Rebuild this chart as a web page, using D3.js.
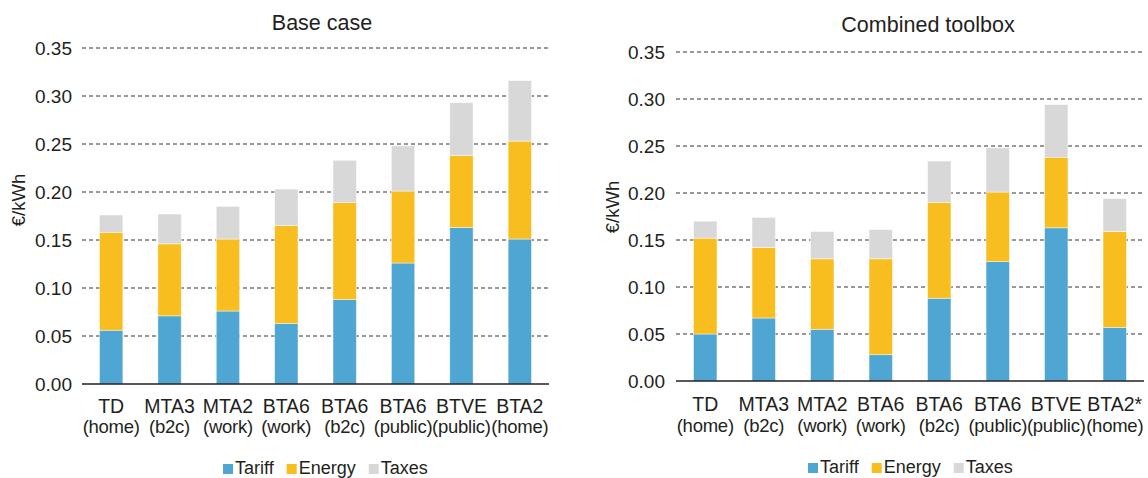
<!DOCTYPE html>
<html>
<head>
<meta charset="utf-8">
<script src="https://cdn.jsdelivr.net/npm/d3@7"></script>
<style>
  html, body { margin: 0; padding: 0; background: #fff; }
  svg { display: block; font-family: "Liberation Sans", Arial, Helvetica, sans-serif; }
</style>
</head>
<body>
<svg id="chart" width="1148" height="478"></svg>
<script>
// Charging cost breakdown (€/kWh) per tariff / use case
const seriesNames = ["Tariff", "Energy", "Taxes"];
const yTicks = [0, 0.05, 0.10, 0.15, 0.20, 0.25, 0.30, 0.35];

const baseCodes = ["TD", "MTA3", "MTA2", "BTA6", "BTA6", "BTA6", "BTVE", "BTA2"];
const baseSites = ["(home)", "(b2c)", "(work)", "(work)", "(b2c)", "(public)", "(public)", "(home)"];
const baseTariff = [0.056, 0.071, 0.076, 0.063, 0.088, 0.126, 0.163, 0.151];
const baseEnergy = [0.102, 0.075, 0.075, 0.102, 0.101, 0.075, 0.075, 0.102];
const baseTaxes  = [0.018, 0.031, 0.034, 0.038, 0.044, 0.047, 0.055, 0.063];

const toolCodes = ["TD", "MTA3", "MTA2", "BTA6", "BTA6", "BTA6", "BTVE", "BTA2*"];
const toolSites = ["(home)", "(b2c)", "(work)", "(work)", "(b2c)", "(public)", "(public)", "(home)"];
const toolTariff = [0.050, 0.067, 0.055, 0.028, 0.088, 0.127, 0.163, 0.057];
const toolEnergy = [0.102, 0.075, 0.075, 0.102, 0.102, 0.074, 0.075, 0.102];
const toolTaxes  = [0.018, 0.032, 0.029, 0.031, 0.044, 0.047, 0.056, 0.035];

const colors = { Tariff: "#4fa6d3", Energy: "#f8be1f", Taxes: "#d7d8d7" };

const svg = d3.select("#chart");

function drawPanel(opt) {
  const g = svg.append("g");
  const rows = opt.codes.map((c, i) => ({
    key: i, code: c, site: opt.sites[i],
    Tariff: opt.tariff[i], Energy: opt.energy[i], Taxes: opt.taxes[i]
  }));

  const x = d3.scaleBand().domain(rows.map(d => d.key))
    .range([opt.left, opt.right]).paddingInner(0.6).paddingOuter(0.3);
  const y = d3.scaleLinear().domain([0, 0.35]).range([opt.base, opt.top]);

  // dashed gridlines
  g.append("g").selectAll("line").data(yTicks.filter(t => t > 0)).join("line")
    .attr("x1", opt.left).attr("x2", opt.right)
    .attr("y1", d => y(d)).attr("y2", d => y(d))
    .attr("stroke", "#333").attr("stroke-width", 1)
    .attr("stroke-dasharray", "4,3");

  // y axis tick labels
  const yAxis = d3.axisLeft(y).tickValues(yTicks).tickFormat(d3.format(".2f"))
    .tickSize(0).tickPadding(opt.tickPad);
  const ya = g.append("g").attr("transform", `translate(${opt.left},0)`).call(yAxis);
  ya.select(".domain").remove();
  ya.selectAll("text").attr("font-size", 19).attr("fill", "#231f20")
    .attr("font-family", "Liberation Sans, Arial, sans-serif");

  // stacked bars
  const stack = d3.stack().keys(seriesNames)(rows);
  g.append("g").selectAll("g").data(stack).join("g")
    .attr("fill", s => colors[s.key])
    .selectAll("rect").data(s => s).join("rect")
    .attr("x", d => x(d.data.key))
    .attr("width", x.bandwidth())
    .attr("y", d => y(d[1]))
    .attr("height", d => y(d[0]) - y(d[1]))
    .attr("stroke", "rgba(255,255,255,0.55)").attr("stroke-width", 0.8);

  // baseline
  g.append("line").attr("x1", opt.left).attr("x2", opt.right)
    .attr("y1", y(0)).attr("y2", y(0))
    .attr("stroke", "#231f20").attr("stroke-width", 1.6);

  // category labels (two lines)
  const lab = g.append("g").selectAll("text").data(rows).join("text")
    .attr("text-anchor", "middle").attr("fill", "#231f20")
    .attr("x", d => x(d.key) + x.bandwidth() / 2);
  lab.append("tspan").attr("x", d => x(d.key) + x.bandwidth() / 2)
    .attr("y", opt.label1).attr("font-size", 19.5).text(d => d.code);
  lab.append("tspan").attr("x", d => x(d.key) + x.bandwidth() / 2)
    .attr("y", opt.label2).attr("font-size", 18.5).attr("letter-spacing", -0.25)
    .text(d => d.site);

  // axis title
  g.append("text").attr("transform", `translate(${opt.yLabelX},${opt.yLabelY}) rotate(-90)`)
    .attr("text-anchor", "middle").attr("font-size", 18.5).attr("fill", "#231f20")
    .text("€/kWh");

  // panel title
  g.append("text").attr("x", opt.titleX).attr("y", opt.titleY)
    .attr("text-anchor", "middle").attr("font-size", 21.5).attr("fill", "#231f20")
    .text(opt.title);

  // legend
  const leg = g.append("g").attr("transform", `translate(${opt.legendX},${opt.legendY})`);
  let cx = 0;
  seriesNames.forEach(n => {
    leg.append("rect").attr("x", cx).attr("y", -10).attr("width", 10).attr("height", 10)
      .attr("fill", colors[n]);
    const t = leg.append("text").attr("x", cx + 12).attr("y", 0)
      .attr("font-size", 18).attr("fill", "#231f20").text(n);
    cx += 12 + t.node().getComputedTextLength() + 13;
  });
}

drawPanel({
  title: "Base case", codes: baseCodes, sites: baseSites,
  tariff: baseTariff, energy: baseEnergy, taxes: baseTaxes,
  left: 82, right: 549, top: 48, base: 384, tickPad: 10,
  label1: 413, label2: 433, yLabelX: 25, yLabelY: 200,
  titleX: 322, titleY: 30, legendX: 223, legendY: 474
});

drawPanel({
  title: "Combined toolbox", codes: toolCodes, sites: toolSites,
  tariff: toolTariff, energy: toolEnergy, taxes: toolTaxes,
  left: 676, right: 1144, top: 52, base: 381, tickPad: 11,
  label1: 411, label2: 432, yLabelX: 619, yLabelY: 207,
  titleX: 928, titleY: 32, legendX: 808, legendY: 473
});
</script>
</body>
</html>
